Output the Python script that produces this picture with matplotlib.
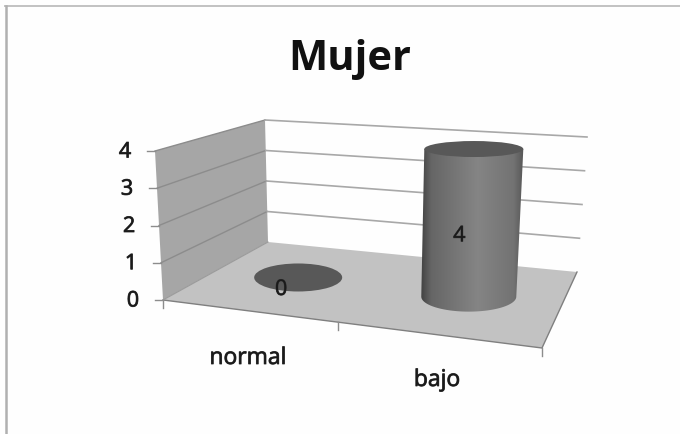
import numpy as np
import matplotlib
matplotlib.use("Agg")
import matplotlib.pyplot as plt
import matplotlib.patheffects as pe
from matplotlib.patches import Ellipse, Polygon

# ---- data ----
title = "Mujer"
categories = ["normal", "bajo"]
values = [0, 4]
value_ticks = [0, 1, 2, 3, 4]

# ---- projection of the 3D box onto the page (pixel anchors) ----
FLB, FLT = (163, 300), (155, 151)
BLB, BLT = (268, 242), (265, 120)
BRB, BRT = (577, 272), (587, 137)
FRB, FRT = (542, 348), (549.5, 175)
VMAX = 4
CAT_U = [0.23, 0.73]
DEPTH = 0.54


def project(u, d, v):
    """u: along the category axis 0..1, d: depth 0..1, v: value."""
    t = v / VMAX
    corners = []
    for a, b in ((FLB, FLT), (FRB, FRT), (BLB, BLT), (BRB, BRT)):
        corners.append(np.array(a) * (1 - t) + np.array(b) * t)
    front = corners[0] * (1 - u) + corners[1] * u
    back = corners[2] * (1 - u) + corners[3] * u
    return front * (1 - d) + back * d


plt.rcParams["font.family"] = ["Open Sans", "DejaVu Sans"]
soft = [pe.withStroke(linewidth=0.6, foreground="#333333")]

W, H = 680, 434
fig = plt.figure(figsize=(W / 100, H / 100), dpi=100, facecolor="#fefefe")
ax = fig.add_axes([0, 0, 1, 1])
ax.set_xlim(0, W)
ax.set_ylim(H, 0)
ax.axis("off")

# chart frame: only the top and left edges show in the scan
ax.plot([5, W], [6, 6], color="#c2c2c2", lw=1.4, zorder=1)
ax.plot([5.5, 5.5], [6, H], color="#b0b0b0", lw=1.8, zorder=1)

# walls and floor
ax.add_patch(Polygon([project(0, 0, 0), project(0, 0, VMAX), project(0, 1, VMAX), project(0, 1, 0)],
                     fc="#a6a6a6", ec="none", zorder=1))
ax.add_patch(Polygon([project(0, 0, 0), project(1, 0, 0), project(1, 1, 0), project(0, 1, 0)],
                     fc="#c2c2c2", ec="none", zorder=1))

# gridlines
for v in value_ticks:
    p0, p1, p2 = project(0, 0, v), project(0, 1, v), project(1, 1, v)
    if v > 0:
        ax.plot([p0[0], p1[0]], [p0[1], p1[1]], color="#8c8c8c", lw=1.0, zorder=2)
        ax.plot([p1[0], p2[0]], [p1[1], p2[1]], color="#a8a8a8", lw=1.2, zorder=2)
    # value tick + label
    ax.plot([p0[0] - 8, p0[0]], [p0[1], p0[1]], color="#8c8c8c", lw=1.0, zorder=2)
    ax.text(p0[0] - 30, p0[1] + 1, str(v), fontsize=15.5, ha="center", va="center",
            color="#1a1a1a", path_effects=soft)

# front floor edges
edge = [project(0, 0, 0), project(1, 0, 0), project(1, 1, 0)]
ax.plot(*zip(*edge), color="#7f7f7f", lw=1.0, zorder=2)
ax.plot([edge[0][0], project(0, 1, 0)[0]], [edge[0][1], project(0, 1, 0)[1]], color="#9a9a9a", lw=0.8, zorder=2)

# category ticks
for u in (0, 0.462, 1):
    p = project(u, 0, 0)
    ax.plot([p[0], p[0]], [p[1], p[1] + 8], color="#8c8c8c", lw=1.0, zorder=2)

# category labels
label_pos = [(248, 358), (437, 380)]
for name, (x, y) in zip(categories, label_pos):
    ax.text(x, y, name, fontsize=16.5, ha="center", va="center", color="#1a1a1a", path_effects=soft)

# cylinders
gradient = np.interp(np.linspace(0, 1, 256), [0, 0.1, 0.55, 0.9, 1], [0.26, 0.40, 0.52, 0.45, 0.34])[None, :]
for u, val in zip(CAT_U, values):
    base = project(u, DEPTH, 0)
    top = project(u, DEPTH, val)
    rx0 = 44 + (u - CAT_U[0]) * 7
    ry0 = 14 + (u - CAT_U[0]) * 2
    rx1, ry1 = rx0 + 2 * val / VMAX, ry0 - 7 * val / VMAX
    if val > 0:
        th = np.linspace(np.pi, 0, 60)
        lower = np.c_[base[0] + rx0 * np.cos(th), base[1] + ry0 * np.sin(th)]
        outline = np.vstack([[top[0] - rx1, top[1]], lower, [top[0] + rx1, top[1]]])
        body = Polygon(outline, fc="none", ec="none", zorder=3)
        ax.add_patch(body)
        left, right = outline[:, 0].min(), outline[:, 0].max()
        im = ax.imshow(gradient, cmap="gray", vmin=0, vmax=1, aspect="auto", zorder=3,
                       extent=(left, right, outline[:, 1].max(), outline[:, 1].min()))
        im.set_clip_path(body)
    ax.add_patch(Ellipse(top, 2 * rx1, 2 * ry1, fc="#585858", ec="none", zorder=4))
    lab = (top + base) / 2 + np.array([-12, 13]) if val > 0 else base + np.array([-17, 12])
    ax.text(lab[0], lab[1], str(val), fontsize=15.5, ha="center", va="center",
            color="#1a1a1a", zorder=5, path_effects=soft)

ax.set_xlim(0, W)
ax.set_ylim(H, 0)

ax.text(350, 60, title, fontsize=30, fontweight="bold", ha="center", va="center", color="#111111")

fig.savefig("out.png", dpi=100, facecolor=fig.get_facecolor())
